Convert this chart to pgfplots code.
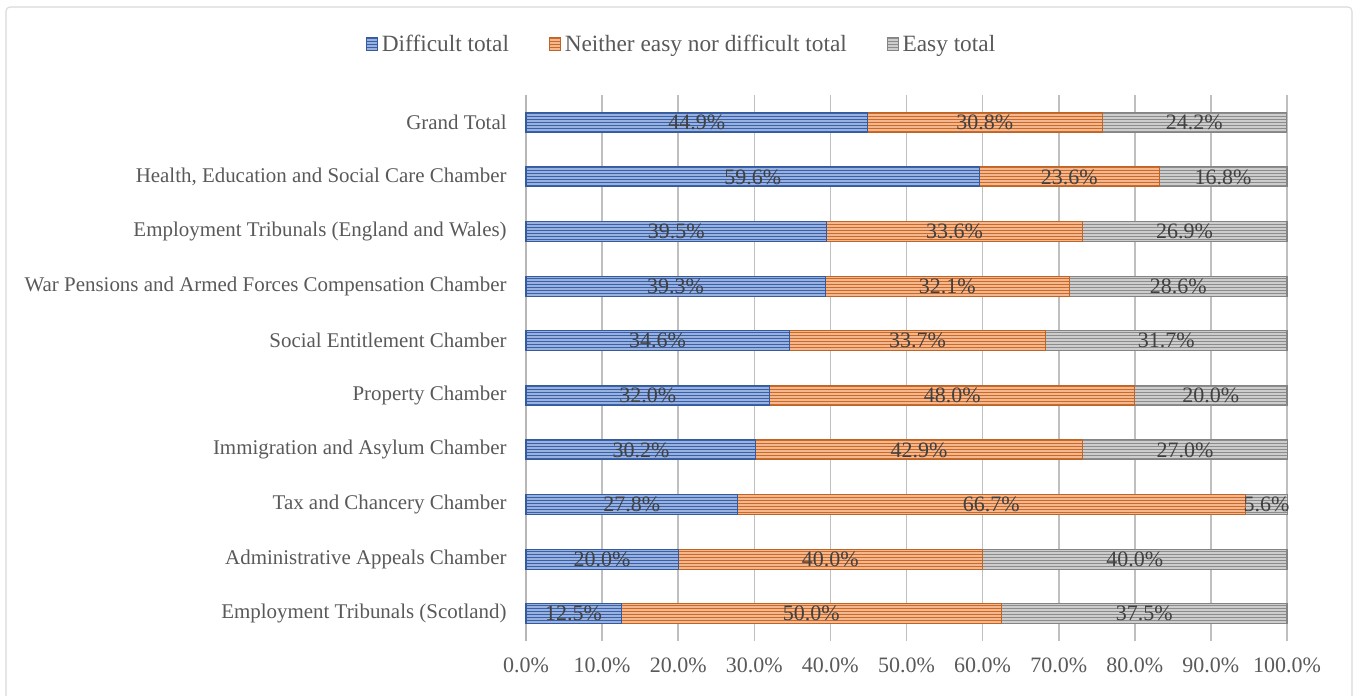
\documentclass[border=0pt]{standalone}
\usepackage{pgfplots}
\pgfplotsset{compat=1.18}
\usepackage{pgfplotstable}
\usepackage{fontspec}
\setmainfont{Liberation Serif}
\usetikzlibrary{patterns}
\definecolor{cblue}{HTML}{4472C4}
\definecolor{corange}{HTML}{ED7D31}
\definecolor{cgray}{HTML}{A5A5A5}
\definecolor{txt}{HTML}{595959}
\definecolor{lbl}{HTML}{404040}
\definecolor{grid}{HTML}{D9D9D9}

\pgfdeclarepatternformonly{hlines}{\pgfpoint{-1pt}{-1pt}}{\pgfpoint{101pt}{3pt}}{\pgfpoint{100pt}{2.25pt}}{%
  \pgfsetlinewidth{1.1pt}%
  \pgfpathmoveto{\pgfpoint{-1pt}{0.55pt}}%
  \pgfpathlineto{\pgfpoint{101pt}{0.55pt}}%
  \pgfusepath{stroke}}

\pgfplotstableread{
y a b c
0 12.5 50.0 37.5
1 20.0 40.0 40.0
2 27.8 66.7 5.6
3 30.2 42.9 27.0
4 32.0 48.0 20.0
5 34.6 33.7 31.7
6 39.3 32.1 28.6
7 39.5 33.6 26.9
8 59.6 23.6 16.8
9 44.9 30.8 24.2
}\data

\begin{document}
\begin{tikzpicture}
\useasboundingbox (0pt,0pt) rectangle (1017.75pt,522pt);
\draw[grid,line width=0.8pt,rounded corners=3pt] (4.5pt,-8pt) rectangle (1014pt,516.75pt);
\pgfplotsset{
  common/.style={
    at={(394.5pt,41.25pt)}, anchor=south west,
    scale only axis, width=570.75pt, height=409.5pt,
    xmin=0, xmax=100, ymin=-0.5, ymax=9.5,
  },
  barstyle/.style n args={1}{fill=#1!55!white, draw=#1!80!black, line width=0.8pt,
    postaction={pattern=hlines, pattern color=#1!85!black}},
}
\begin{axis}[common,
  xbar stacked, bar width=15pt,
  axis line style={draw=none},
  axis x line*=bottom, axis y line*=left,
  xmajorgrids, grid style={grid, line width=1.2pt},
  xtick={0,10,...,100},
  ytick={0,...,9},
  major tick length=0pt,
  yticklabels={Employment Tribunals (Scotland),Administrative Appeals Chamber,Tax and Chancery Chamber,Immigration and Asylum Chamber,Property Chamber,Social Entitlement Chamber,War Pensions and Armed Forces Compensation Chamber,Employment Tribunals (England and Wales),{Health, Education and Social Care Chamber},Grand Total},
  yticklabel style={font=\fontsize{15.7}{18}\selectfont, text=txt, xshift=-11pt},
  xticklabel={\pgfmathprintnumber[fixed,fixed zerofill,precision=1]{\tick}\%},
  xticklabel style={font=\fontsize{16.5}{18}\selectfont, text=txt, yshift=-9pt},
  /pgf/number format/assume math mode=true,
  legend style={at={(0.205,1.093)}, anchor=center, draw=none, fill=none,
    font=\fontsize{17.5}{19}\selectfont, text=txt,
    /tikz/every even column/.append style={column sep=28pt},
    /tikz/every odd column/.append style={column sep=1pt}},
  legend columns=3,
  legend image code/.code={\draw[#1] (0pt,-5pt) rectangle (8pt,5pt);},
  clip=false,
]
\addplot[barstyle=cblue] table[x=a,y=y] {\data};
\addplot[barstyle=corange] table[x=b,y=y] {\data};
\addplot[barstyle=cgray] table[x=c,y=y] {\data};
\legend{Difficult total,Neither easy nor difficult total,Easy total}
\draw[color=cgray!80!white, line width=2pt] (axis cs:0,-0.5) -- (axis cs:0,9.5);
\end{axis}
\begin{axis}[common, axis lines=none,
  nodes near coords={\pgfmathprintnumber[fixed,fixed zerofill,precision=1]{\pgfplotspointmeta}\%},
  point meta=explicit,
  every node near coord/.style={anchor=center, font=\fontsize{16.5}{18}\selectfont, text=lbl, inner sep=0pt},
  /pgf/number format/assume math mode=true,
  clip=false,
]
\addplot[draw=none, mark=none] table[x expr=\thisrow{a}/2, y=y, meta=a] {\data};
\addplot[draw=none, mark=none] table[x expr=\thisrow{a}+\thisrow{b}/2, y=y, meta=b] {\data};
\addplot[draw=none, mark=none] table[x expr=\thisrow{a}+\thisrow{b}+\thisrow{c}/2, y=y, meta=c] {\data};
\end{axis}
\end{tikzpicture}
\end{document}
